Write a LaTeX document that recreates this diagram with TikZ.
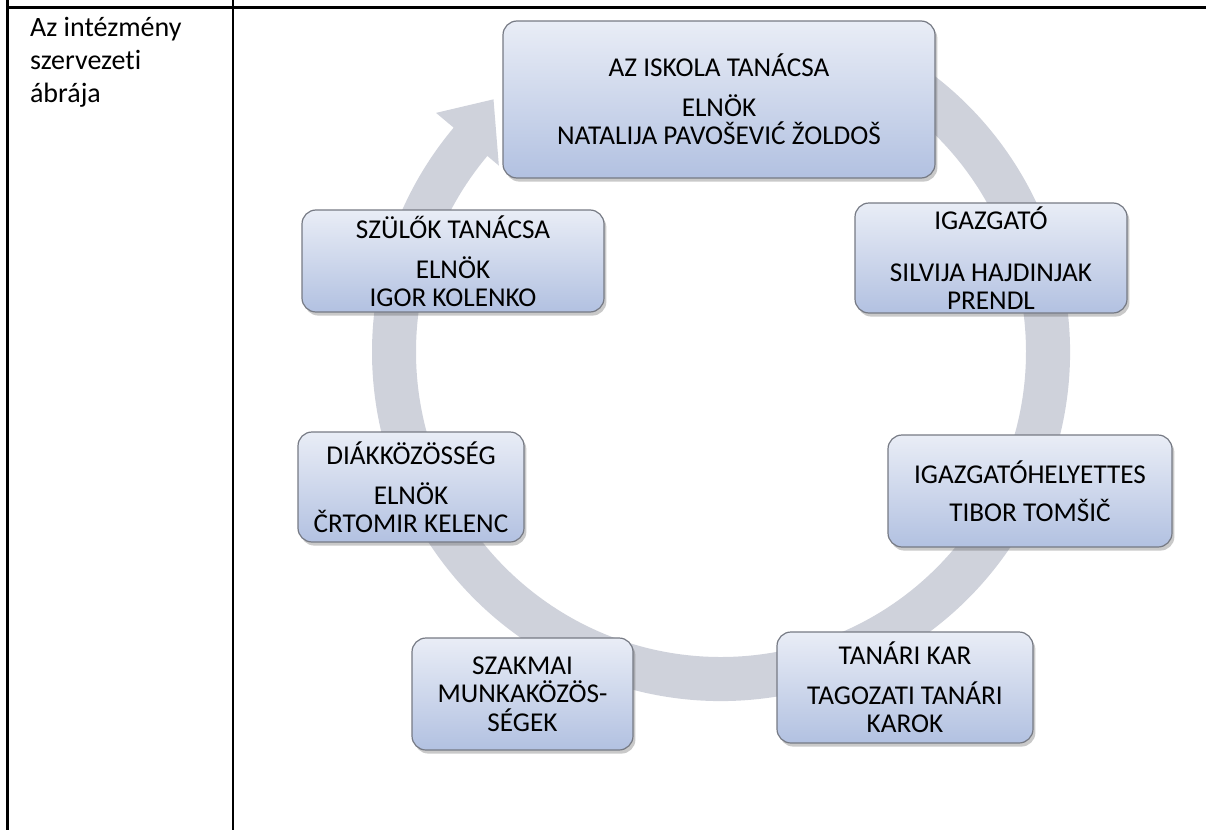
\documentclass[tikz,border=0pt]{standalone}
\usepackage{fontspec}
\setmainfont{Carlito}[Ligatures=NoCommon]
\usetikzlibrary{shadows}
\definecolor{ringgray}{RGB}{207,210,219}
\definecolor{boxtop}{RGB}{233,237,246}
\definecolor{boxbottom}{RGB}{178,193,225}
\definecolor{boxline}{RGB}{118,122,132}

\begin{document}
\begin{tikzpicture}[x=0.5pt, y=-0.5pt,
  rule/.style={black, line width=1.35pt},
  orgbox/.style={draw=boxline, line width=0.6pt, rounded corners=7pt,
    top color=boxtop, bottom color=boxbottom, align=center, inner sep=0pt,
    font=\fontsize{13.6}{14.2}\selectfont,
    drop shadow={shadow xshift=1.2pt, shadow yshift=-1.8pt, opacity=0.3, fill=black!70}}]
\useasboundingbox (0,0) rectangle (1206,830);
\draw[rule] (7.5,0) -- (7.5,830);
\draw[rule] (233,0) -- (233,830);
\draw[rule] (7.5,7.5) -- (1206,7.5);
\node[anchor=base west, align=left, font=\fontsize{14}{16.5}\selectfont] (cim) at (23,102) {Az intézmény\\szervezeti\\ábrája};
\begin{scope}[shift={(721,352)}]
 \fill[ringgray] (-65:349) arc[start angle=-65, end angle=220, radius=349] -- (220:372) -- (228:340)
   -- (220:290) -- (220:305) arc[start angle=220, end angle=-65, radius=305] -- cycle;
\end{scope}
\node[orgbox, minimum width=216pt, minimum height=78.5pt] (iskola) at (719,99.5)
  {AZ ISKOLA TANÁCSA\\[5.8pt] ELNÖK\\ NATALIJA PAVOŠEVIĆ ŽOLDOŠ};
\node[orgbox, minimum width=136pt, minimum height=55pt] (igazgato) at (991,258)
  {IGAZGATÓ\\[11.8pt] SILVIJA HAJDINJAK\\ PRENDL};
\node[orgbox, minimum width=142pt, minimum height=56pt] (helyettes) at (1030,491)
  {IGAZGATÓHELYETTES\\[4.8pt] TIBOR TOMŠIČ};
\node[orgbox, minimum width=128pt, minimum height=55.5pt] (tanari) at (905,687.5)
  {TANÁRI KAR\\[5.8pt] TAGOZATI TANÁRI\\ KAROK};
\node[orgbox, minimum width=110.5pt, minimum height=56pt] (szakmai) at (522.5,694)
  {SZAKMAI\\ MUNKAKÖZÖS-\\ SÉGEK};
\node[orgbox, minimum width=113pt, minimum height=55pt] (diak) at (411,487)
  {DIÁKKÖZÖSSÉG\\[5.8pt] ELNÖK\\ ČRTOMIR KELENC};
\node[orgbox, minimum width=151pt, minimum height=51pt] (szulok) at (453,261)
  {SZÜLŐK TANÁCSA\\[5.8pt] ELNÖK\\ IGOR KOLENKO};
\end{tikzpicture}
\end{document}
